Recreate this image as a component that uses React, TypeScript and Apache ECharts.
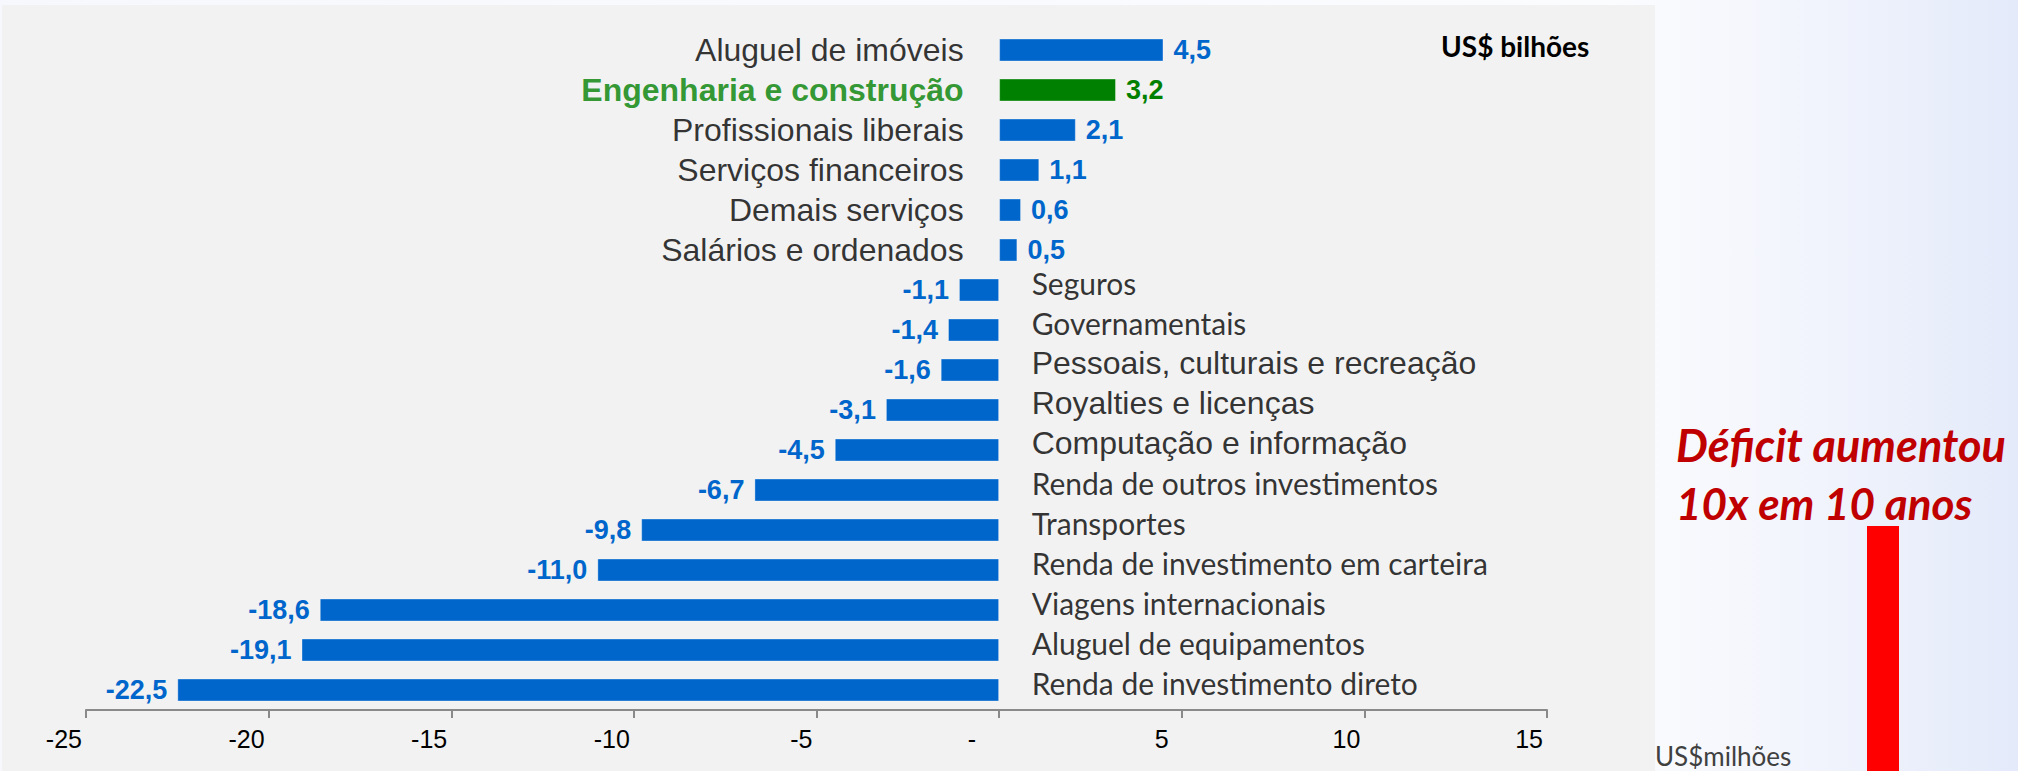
import React, { useEffect, useRef } from "react";
import * as echarts from "echarts";

const categories = [
  "Aluguel de imóveis",
  "Engenharia e construção",
  "Profissionais liberais",
  "Serviços financeiros",
  "Demais serviços",
  "Salários e ordenados",
  "Seguros",
  "Governamentais",
  "Pessoais, culturais e recreação",
  "Royalties e licenças",
  "Computação e informação",
  "Renda de outros investimentos",
  "Transportes",
  "Renda de investimento em carteira",
  "Viagens internacionais",
  "Aluguel de equipamentos",
  "Renda de investimento direto",
];
const values = [4.5, 3.2, 2.1, 1.1, 0.6, 0.5, -1.1, -1.4, -1.6, -3.1, -4.5, -6.7, -9.8, -11.0, -18.6, -19.1, -22.5];
const highlighted = ["Engenharia e construção"];
const axisTicks = [-25, -20, -15, -10, -5, 0, 5, 10, 15];
const unitLabel = "US$ bilhões";
const noteLines = ["Déficit aumentou", "10x em 10 anos"];
const otherUnit = "US$milhões";

// style: which negative-side names are set in the sans (Arial-like) face in the original
const ARIAL_NAMES = ["Pessoais, culturais e recreação", "Royalties e licenças", "Computação e informação"];

const BLUE = "#0066CC";
const GREEN = "#008000";
const ARIAL = "'Liberation Sans', Arial, sans-serif";
const LATO = "Lato, 'Noto Sans', sans-serif";

export default function App() {
  const ref = useRef<HTMLDivElement>(null);
  useEffect(() => {
    if (!ref.current) return;
    const chart = echarts.init(ref.current, null, { renderer: "svg" });
    const fmt = (v: number) => v.toFixed(1).replace(".", ",");

    const barData = values.map((v, i) => {
      const hi = highlighted.includes(categories[i]);
      const col = hi ? GREEN : BLUE;
      return {
        value: v,
        itemStyle: { color: col },
        label: {
          show: true,
          position: v >= 0 ? "right" : "left",
          distance: 10,
          formatter: fmt(v),
          color: col,
          fontFamily: ARIAL,
          fontWeight: "bold",
          fontSize: 27,
        },
      };
    });

    const nameData = categories.map((c, i) => {
      const v = values[i];
      const hi = highlighted.includes(c);
      const pos = v >= 0;
      const arial = pos || ARIAL_NAMES.includes(c);
      return {
        value: [0, c],
        label: {
          show: true,
          position: pos ? "left" : "right",
          distance: pos ? 35 : 32,
          offset: pos ? [0, 0] : [0, -7],
          formatter: c,
          color: hi ? GREEN : "#000000",
          fontFamily: arial ? ARIAL : LATO,
          fontWeight: hi ? "bold" : "normal",
          fontSize: arial ? 32 : 30,
        },
      };
    });

    chart.setOption({
      animation: false,
      graphic: [
        {
          type: "rect",
          z: -10,
          silent: true,
          shape: { x: 0, y: 0, width: 2018, height: 771 },
          style: {
            fill: new echarts.graphic.LinearGradient(0, 0, 1, 0, [
              { offset: 0, color: "#f6f8fd" },
              { offset: 0.8, color: "#fbfcfe" },
              { offset: 0.9, color: "#f1f4fc" },
              { offset: 1, color: "#e4eafa" },
            ]),
          },
        },
        {
          type: "rect",
          z: -9,
          silent: true,
          shape: { x: 2, y: 5, width: 1653, height: 766 },
          style: { fill: "#f2f2f2" },
        },
        {
          type: "text",
          x: 1441,
          y: 46,
          style: {
            text: unitLabel,
            font: "bold 28px " + LATO,
            fill: "#000000",
            align: "left",
            verticalAlign: "middle",
          },
        },
        {
          type: "text",
          x: 1676,
          y: 445,
          style: {
            text: noteLines[0],
            font: "italic bold 45px " + LATO,
            fill: "#C00000",
            align: "left",
            verticalAlign: "middle",
          },
        },
        {
          type: "text",
          x: 1676,
          y: 503,
          style: {
            text: noteLines[1],
            font: "italic bold 44px " + LATO,
            fill: "#C00000",
            align: "left",
            verticalAlign: "middle",
          },
        },
        {
          type: "rect",
          silent: true,
          shape: { x: 1867, y: 526, width: 32, height: 250 },
          style: { fill: "#FF0000" },
        },
        {
          type: "text",
          x: 1655,
          y: 756,
          style: {
            text: otherUnit,
            font: "26px " + LATO,
            fill: "#404040",
            align: "left",
            verticalAlign: "middle",
          },
        },
      ],
      grid: { left: 86, right: 471, top: 30, height: 680, containLabel: false },
      xAxis: {
        type: "value",
        min: axisTicks[0],
        max: axisTicks[axisTicks.length - 1],
        interval: 5,
        splitLine: { show: false },
        axisLine: { show: true, onZero: false, lineStyle: { color: "#8a8a8a", width: 2 } },
        axisTick: { show: true, inside: false, length: 8, lineStyle: { color: "#8a8a8a", width: 2 } },
        axisLabel: {
          show: true,
          margin: 16,
          align: "right",
          color: "#000000",
          fontFamily: ARIAL,
          fontSize: 25,
          formatter: (v: number) =>
            v === 0 ? "{z|-}" : v > 0 && v < 10 ? "{f|" + v + "}" : "{n|" + v + "}",
          rich: {
            n: { padding: [0, 4, 0, 0], fontSize: 25, fontFamily: ARIAL, color: "#000" },
            f: { padding: [0, 13, 0, 0], fontSize: 25, fontFamily: ARIAL, color: "#000" },
            z: { padding: [0, 23, 0, 0], fontSize: 25, fontFamily: ARIAL, color: "#000" },
          },
        },
      },
      yAxis: {
        type: "category",
        data: categories,
        inverse: true,
        axisLine: { show: false },
        axisTick: { show: false },
        axisLabel: { show: false },
        splitLine: { show: false },
      },
      series: [
        {
          type: "bar",
          data: barData,
          barWidth: 23,
          itemStyle: { borderColor: "rgba(255,255,255,0.35)", borderWidth: 1 },
        },
        {
          type: "scatter",
          data: nameData,
          symbolSize: 1,
          itemStyle: { color: "rgba(0,0,0,0)" },
          silent: true,
        },
      ],
    });
    return () => chart.dispose();
  }, []);
  return (
    <div
      ref={ref}
      style={{ position: "absolute", left: 0, top: 0, width: 2018, height: 771 }}
    />
  );
}
